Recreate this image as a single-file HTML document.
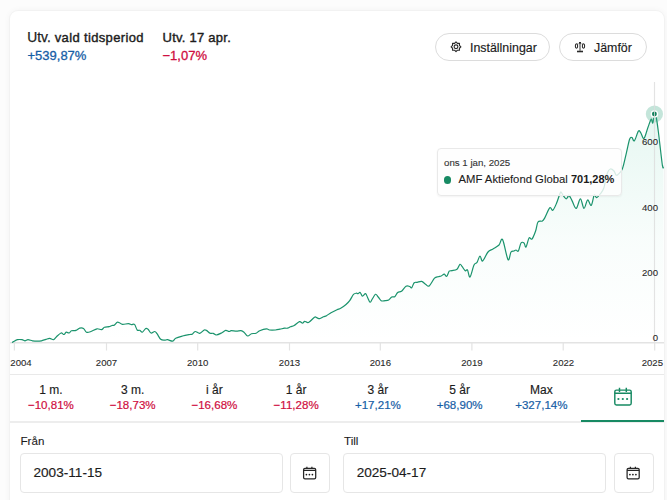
<!DOCTYPE html>
<html><head><meta charset="utf-8">
<style>
*{box-sizing:border-box;margin:0;padding:0}
html,body{width:667px;height:500px;overflow:hidden;background:#fcfcfc;font-family:"Liberation Sans",sans-serif;color:#222}
.card{position:absolute;left:9.8px;top:11px;width:653.8px;height:520px;background:#fff;border-radius:8px;box-shadow:0 0 0 1px #f2f2f2,0 0 7px rgba(0,0,0,0.05)}
.abs{position:absolute;white-space:nowrap}
.hl{font-size:13px;color:#1c1c1c;-webkit-text-stroke:0.4px #1c1c1c}
.pos{color:#175ea6}
.neg{color:#cf0d40}
.val{font-size:13px;-webkit-text-stroke:0.3px currentColor}
.btn{position:absolute;top:33px;height:28px;border:1px solid #dcdcdc;border-radius:14px;background:#fff}
.btn span{position:absolute;font-size:12.4px;color:#1c1c1c;top:6.5px;-webkit-text-stroke:0.15px #1c1c1c}
.ax{font-size:9.6px;color:#2a2a2a;-webkit-text-stroke:0.1px #2a2a2a}
.tab{position:absolute;top:383px;width:81.75px;text-align:center}
.tab .n{font-size:12px;color:#1c1c1c;line-height:14px;-webkit-text-stroke:0.15px #1c1c1c}
.tab .v{font-size:11.55px;line-height:16px;-webkit-text-stroke:0.2px currentColor}
.lbl{font-size:11.6px;color:#1c1c1c;-webkit-text-stroke:0.1px #1c1c1c}
.inp{position:absolute;top:453px;height:39.6px;border:1px solid #e6e6e6;border-radius:4px;background:#fff}
.inp span{position:absolute;left:12.5px;top:11px;font-size:13.6px;color:#1c1c1c;-webkit-text-stroke:0.15px #1c1c1c}
.cbtn{position:absolute;top:453px;width:40px;height:39.6px;border:1px solid #e6e6e6;border-radius:4px;background:#fff}
</style></head><body>
<div class="card"></div>
<div class="abs" style="left:27.3px;top:30px;font-size:13px;color:#1c1c1c"><span style="font-size:13.8px;-webkit-text-stroke:0.25px #1c1c1c">Utv.</span><span class="hl" style="position:absolute;left:27.4px;top:0;letter-spacing:0.36px">vald tidsperiod</span></div>
<div class="abs val pos" style="left:27.5px;top:48px">+539,87%</div>
<div class="abs hl" style="left:162.5px;top:30px;letter-spacing:0.25px">Utv. 17 apr.</div>
<div class="abs val neg" style="left:162.5px;top:48px">&minus;1,07%</div>

<div class="btn" style="left:435px;width:115px">
<span style="left:34px">Inställningar</span></div>
<div class="btn" style="left:559px;width:88px">
<span style="left:34px">Jämför</span></div>

<svg class="abs" style="left:440px;top:30px" width="160" height="30" viewBox="440 30 160 30">
<g fill="none" stroke="#2a2a2a" stroke-width="1.15" stroke-linejoin="round"><path d="M456.00,41.90 L457.42,43.38 L459.46,43.34 L459.42,45.38 L460.90,46.80 L459.42,48.22 L459.46,50.26 L457.42,50.22 L456.00,51.70 L454.58,50.22 L452.54,50.26 L452.58,48.22 L451.10,46.80 L452.58,45.38 L452.54,43.34 L454.58,43.38Z"/><circle cx="456" cy="46.8" r="1.9"/></g>
<g fill="none" stroke="#2a2a2a">
<rect x="579" y="42" width="2" height="2" fill="#2a2a2a" stroke="none"/>
<path d="M580 44v6.8" stroke-width="1.2" stroke="#555"/>
<path d="M577 51.5h6" stroke-width="1.6"/>
<path d="M576.5 43.8h7" stroke-width="0.6" stroke="#888"/>
<ellipse cx="576.5" cy="46" rx="1.15" ry="2.3" stroke-width="1.1"/>
<ellipse cx="583.5" cy="46" rx="1.15" ry="2.3" stroke-width="1.1"/>
</g></svg>
<svg class="abs" style="left:0;top:0" width="667" height="500">
<defs><linearGradient id="g" x1="0" y1="113" x2="0" y2="343" gradientUnits="userSpaceOnUse">
<stop offset="0" stop-color="#40c49a" stop-opacity="0.13"/><stop offset="0.55" stop-color="#40c49a" stop-opacity="0.035"/><stop offset="1" stop-color="#40c49a" stop-opacity="0"/></linearGradient></defs>
<path d="M12.00,342.60 C12.25,342.43 12.58,342.08 13.50,341.60 C14.42,341.12 16.08,340.02 17.50,339.70 C18.92,339.38 20.75,339.52 22.00,339.70 C23.25,339.88 24.00,340.80 25.00,340.80 C26.00,340.80 26.75,339.70 28.00,339.70 C29.25,339.70 31.00,340.55 32.50,340.80 C34.00,341.05 35.50,341.20 37.00,341.20 C38.50,341.20 40.00,341.12 41.50,340.80 C43.00,340.48 44.63,339.70 46.00,339.30 C47.37,338.90 48.45,338.33 49.70,338.40 C50.95,338.47 52.37,339.98 53.50,339.70 C54.63,339.42 55.25,337.82 56.50,336.70 C57.75,335.58 59.75,333.37 61.00,333.00 C62.25,332.63 63.13,334.63 64.00,334.50 C64.87,334.37 65.33,332.45 66.20,332.20 C67.07,331.95 68.32,333.25 69.20,333.00 C70.08,332.75 70.37,331.13 71.50,330.70 C72.63,330.27 74.63,330.82 76.00,330.40 C77.37,329.98 78.45,328.52 79.70,328.20 C80.95,327.88 82.37,327.83 83.50,328.50 C84.63,329.17 85.25,331.70 86.50,332.20 C87.75,332.70 89.25,332.07 91.00,331.50 C92.75,330.93 95.25,329.10 97.00,328.80 C98.75,328.50 100.25,329.95 101.50,329.70 C102.75,329.45 103.25,327.80 104.50,327.30 C105.75,326.80 107.75,327.00 109.00,326.70 C110.25,326.40 111.13,325.75 112.00,325.50 C112.87,325.25 113.33,325.75 114.20,325.20 C115.07,324.65 116.32,322.60 117.20,322.20 C118.08,321.80 118.62,322.45 119.50,322.80 C120.38,323.15 121.00,324.15 122.50,324.30 C124.00,324.45 127.00,323.63 128.50,323.70 C130.00,323.77 130.50,324.58 131.50,324.70 C132.50,324.82 133.55,323.52 134.50,324.40 C135.45,325.28 136.33,329.02 137.20,330.00 C138.07,330.98 138.85,329.93 139.70,330.30 C140.55,330.67 141.30,332.50 142.30,332.20 C143.30,331.90 144.75,329.00 145.70,328.50 C146.65,328.00 147.12,328.45 148.00,329.20 C148.88,329.95 149.88,332.62 151.00,333.00 C152.12,333.38 153.70,331.38 154.70,331.50 C155.70,331.62 156.00,332.40 157.00,333.70 C158.00,335.00 159.45,338.22 160.70,339.30 C161.95,340.38 163.37,340.13 164.50,340.20 C165.63,340.27 166.13,339.53 167.50,339.70 C168.87,339.87 171.33,341.45 172.70,341.20 C174.07,340.95 174.07,339.07 175.70,338.20 C177.33,337.33 180.12,336.62 182.50,336.00 C184.88,335.38 188.38,334.80 190.00,334.50 C191.62,334.20 191.33,334.70 192.20,334.20 C193.07,333.70 193.95,331.65 195.20,331.50 C196.45,331.35 198.20,333.55 199.70,333.30 C201.20,333.05 203.07,330.48 204.20,330.00 C205.33,329.52 205.50,329.85 206.50,330.40 C207.50,330.95 209.08,332.82 210.20,333.30 C211.32,333.78 212.20,333.02 213.20,333.30 C214.20,333.58 214.82,335.05 216.20,335.00 C217.58,334.95 219.92,333.77 221.50,333.00 C223.08,332.23 224.45,330.65 225.70,330.40 C226.95,330.15 228.08,331.45 229.00,331.50 C229.92,331.55 229.95,330.75 231.20,330.70 C232.45,330.65 234.87,331.20 236.50,331.20 C238.13,331.20 239.75,330.53 241.00,330.70 C242.25,330.87 242.88,331.32 244.00,332.20 C245.12,333.08 246.45,335.75 247.70,336.00 C248.95,336.25 250.12,334.15 251.50,333.70 C252.88,333.25 254.63,333.80 256.00,333.30 C257.37,332.80 257.95,331.45 259.70,330.70 C261.45,329.95 264.87,328.92 266.50,328.80 C268.13,328.68 268.00,329.80 269.50,330.00 C271.00,330.20 273.75,330.13 275.50,330.00 C277.25,329.87 278.50,329.50 280.00,329.20 C281.50,328.90 283.25,328.37 284.50,328.20 C285.75,328.03 286.50,328.45 287.50,328.20 C288.50,327.95 289.38,327.15 290.50,326.70 C291.62,326.25 292.70,326.33 294.20,325.50 C295.70,324.67 298.12,322.08 299.50,321.70 C300.88,321.32 301.63,323.27 302.50,323.20 C303.37,323.13 303.70,321.42 304.70,321.30 C305.70,321.18 306.87,323.18 308.50,322.50 C310.13,321.82 313.13,318.00 314.50,317.20 C315.87,316.40 315.83,317.45 316.70,317.70 C317.57,317.95 318.57,318.85 319.70,318.70 C320.83,318.55 322.37,317.30 323.50,316.80 C324.63,316.30 325.25,316.38 326.50,315.70 C327.75,315.02 329.25,313.70 331.00,312.70 C332.75,311.70 335.38,310.45 337.00,309.70 C338.62,308.95 339.20,309.07 340.70,308.20 C342.20,307.33 344.50,305.75 346.00,304.50 C347.50,303.25 348.45,302.38 349.70,300.70 C350.95,299.02 352.37,295.65 353.50,294.40 C354.63,293.15 355.75,293.32 356.50,293.20 C357.25,293.08 357.38,293.82 358.00,293.70 C358.62,293.58 359.45,292.08 360.20,292.50 C360.95,292.92 361.62,296.00 362.50,296.20 C363.38,296.40 364.63,293.45 365.50,293.70 C366.37,293.95 366.95,296.28 367.70,297.70 C368.45,299.12 369.25,301.95 370.00,302.20 C370.75,302.45 371.28,300.52 372.20,299.20 C373.12,297.88 374.50,294.67 375.50,294.30 C376.50,293.93 377.25,295.93 378.20,297.00 C379.15,298.07 380.07,300.08 381.20,300.70 C382.33,301.32 383.75,300.82 385.00,300.70 C386.25,300.58 387.58,300.62 388.70,300.00 C389.82,299.38 390.70,297.55 391.70,297.00 C392.70,296.45 393.70,297.45 394.70,296.70 C395.70,295.95 396.57,293.40 397.70,292.50 C398.83,291.60 400.12,292.35 401.50,291.30 C402.88,290.25 404.63,287.00 406.00,286.20 C407.37,285.40 408.75,286.25 409.70,286.50 C410.65,286.75 410.95,288.33 411.70,287.70 C412.45,287.07 413.28,283.60 414.20,282.70 C415.12,281.80 415.95,282.52 417.20,282.30 C418.45,282.08 420.32,281.08 421.70,281.40 C423.08,281.72 424.25,283.45 425.50,284.20 C426.75,284.95 427.70,286.90 429.20,285.90 C430.70,284.90 433.00,279.73 434.50,278.20 C436.00,276.67 437.08,277.07 438.20,276.70 C439.32,276.33 440.20,276.42 441.20,276.00 C442.20,275.58 443.28,274.15 444.20,274.20 C445.12,274.25 445.87,276.80 446.70,276.30 C447.53,275.80 448.37,272.13 449.20,271.20 C450.03,270.27 450.40,271.03 451.70,270.70 C453.00,270.37 455.62,270.27 457.00,269.20 C458.38,268.13 459.13,264.72 460.00,264.30 C460.87,263.88 461.33,265.63 462.20,266.70 C463.07,267.77 464.32,270.15 465.20,270.70 C466.08,271.25 466.70,268.95 467.50,270.00 C468.30,271.05 468.92,277.83 470.00,277.00 C471.08,276.17 472.83,267.43 474.00,265.00 C475.17,262.57 476.00,263.90 477.00,262.40 C478.00,260.90 479.07,256.23 480.00,256.00 C480.93,255.77 481.27,261.67 482.60,261.00 C483.93,260.33 486.27,254.00 488.00,252.00 C489.73,250.00 491.17,250.17 493.00,249.00 C494.83,247.83 497.40,246.57 499.00,245.00 C500.60,243.43 501.10,237.17 502.60,239.60 C504.10,242.03 506.60,257.53 508.00,259.60 C509.40,261.67 510.00,253.43 511.00,252.00 C512.00,250.57 513.17,251.33 514.00,251.00 C514.83,250.67 515.27,250.00 516.00,250.00 C516.73,250.00 517.57,252.17 518.40,251.00 C519.23,249.83 520.07,244.33 521.00,243.00 C521.93,241.67 523.17,242.33 524.00,243.00 C524.83,243.67 525.17,247.83 526.00,247.00 C526.83,246.17 528.00,239.33 529.00,238.00 C530.00,236.67 530.90,240.17 532.00,239.00 C533.10,237.83 534.60,233.83 535.60,231.00 C536.60,228.17 536.87,223.67 538.00,222.00 C539.13,220.33 541.23,221.77 542.40,221.00 C543.57,220.23 543.77,219.60 545.00,217.40 C546.23,215.20 548.50,209.00 549.80,207.80 C551.10,206.60 551.70,210.90 552.80,210.20 C553.90,209.50 555.20,206.40 556.40,203.60 C557.60,200.80 559.20,195.30 560.00,193.40 C560.80,191.50 560.70,191.90 561.20,192.20 C561.70,192.50 562.20,194.10 563.00,195.20 C563.80,196.30 565.20,198.50 566.00,198.80 C566.80,199.10 567.30,197.60 567.80,197.00 C568.30,196.40 568.30,194.60 569.00,195.20 C569.70,195.80 570.80,198.40 572.00,200.60 C573.20,202.80 574.80,208.70 576.20,208.40 C577.60,208.10 579.10,198.80 580.40,198.80 C581.70,198.80 582.80,208.20 584.00,208.40 C585.20,208.60 586.40,200.50 587.60,200.00 C588.80,199.50 590.10,206.20 591.20,205.40 C592.30,204.60 593.30,196.50 594.20,195.20 C595.10,193.90 595.60,197.80 596.60,197.60 C597.60,197.40 599.00,195.60 600.20,194.00 C601.40,192.40 602.60,191.50 603.80,188.00 C605.00,184.50 606.32,176.17 607.40,173.00 C608.48,169.83 609.20,169.33 610.30,169.00 C611.40,168.67 613.05,170.00 614.00,171.00 C614.95,172.00 615.33,174.42 616.00,175.00 C616.67,175.58 616.93,175.53 618.00,174.50 C619.07,173.47 621.00,172.42 622.40,168.80 C623.80,165.18 625.20,157.73 626.40,152.80 C627.60,147.87 628.67,141.73 629.60,139.20 C630.53,136.67 631.20,137.33 632.00,137.60 C632.80,137.87 633.33,141.87 634.40,140.80 C635.47,139.73 637.33,132.53 638.40,131.20 C639.47,129.87 639.87,131.60 640.80,132.80 C641.73,134.00 642.80,139.33 644.00,138.40 C645.20,137.47 646.80,130.40 648.00,127.20 C649.20,124.00 650.40,119.90 651.20,119.20 C652.00,118.50 652.27,123.87 652.80,123.00 C653.33,122.13 653.87,115.17 654.40,114.00 C654.93,112.83 655.33,113.00 656.00,116.00 C656.67,119.00 657.33,123.75 658.40,132.00 C659.47,140.25 661.55,159.78 662.40,165.50 C663.25,171.22 663.32,166.17 663.50,166.30 L663.5,342.8 L12,342.8 Z" fill="url(#g)"/>
<line x1="10" y1="342.8" x2="664" y2="342.8" stroke="#e3e3e3" stroke-width="1.5"/>
<g stroke="#e3e3e3" stroke-width="1.2">
<line x1="14.4" y1="343" x2="14.4" y2="350.5"/><line x1="106.5" y1="343" x2="106.5" y2="350.5"/><line x1="197.7" y1="343" x2="197.7" y2="350.5"/><line x1="289.5" y1="343" x2="289.5" y2="350.5"/><line x1="380.3" y1="343" x2="380.3" y2="350.5"/><line x1="471.9" y1="343" x2="471.9" y2="350.5"/><line x1="563.2" y1="343" x2="563.2" y2="350.5"/><line x1="654.7" y1="343" x2="654.7" y2="350.5"/>
</g>
<path d="M12.00,342.60 C12.25,342.43 12.58,342.08 13.50,341.60 C14.42,341.12 16.08,340.02 17.50,339.70 C18.92,339.38 20.75,339.52 22.00,339.70 C23.25,339.88 24.00,340.80 25.00,340.80 C26.00,340.80 26.75,339.70 28.00,339.70 C29.25,339.70 31.00,340.55 32.50,340.80 C34.00,341.05 35.50,341.20 37.00,341.20 C38.50,341.20 40.00,341.12 41.50,340.80 C43.00,340.48 44.63,339.70 46.00,339.30 C47.37,338.90 48.45,338.33 49.70,338.40 C50.95,338.47 52.37,339.98 53.50,339.70 C54.63,339.42 55.25,337.82 56.50,336.70 C57.75,335.58 59.75,333.37 61.00,333.00 C62.25,332.63 63.13,334.63 64.00,334.50 C64.87,334.37 65.33,332.45 66.20,332.20 C67.07,331.95 68.32,333.25 69.20,333.00 C70.08,332.75 70.37,331.13 71.50,330.70 C72.63,330.27 74.63,330.82 76.00,330.40 C77.37,329.98 78.45,328.52 79.70,328.20 C80.95,327.88 82.37,327.83 83.50,328.50 C84.63,329.17 85.25,331.70 86.50,332.20 C87.75,332.70 89.25,332.07 91.00,331.50 C92.75,330.93 95.25,329.10 97.00,328.80 C98.75,328.50 100.25,329.95 101.50,329.70 C102.75,329.45 103.25,327.80 104.50,327.30 C105.75,326.80 107.75,327.00 109.00,326.70 C110.25,326.40 111.13,325.75 112.00,325.50 C112.87,325.25 113.33,325.75 114.20,325.20 C115.07,324.65 116.32,322.60 117.20,322.20 C118.08,321.80 118.62,322.45 119.50,322.80 C120.38,323.15 121.00,324.15 122.50,324.30 C124.00,324.45 127.00,323.63 128.50,323.70 C130.00,323.77 130.50,324.58 131.50,324.70 C132.50,324.82 133.55,323.52 134.50,324.40 C135.45,325.28 136.33,329.02 137.20,330.00 C138.07,330.98 138.85,329.93 139.70,330.30 C140.55,330.67 141.30,332.50 142.30,332.20 C143.30,331.90 144.75,329.00 145.70,328.50 C146.65,328.00 147.12,328.45 148.00,329.20 C148.88,329.95 149.88,332.62 151.00,333.00 C152.12,333.38 153.70,331.38 154.70,331.50 C155.70,331.62 156.00,332.40 157.00,333.70 C158.00,335.00 159.45,338.22 160.70,339.30 C161.95,340.38 163.37,340.13 164.50,340.20 C165.63,340.27 166.13,339.53 167.50,339.70 C168.87,339.87 171.33,341.45 172.70,341.20 C174.07,340.95 174.07,339.07 175.70,338.20 C177.33,337.33 180.12,336.62 182.50,336.00 C184.88,335.38 188.38,334.80 190.00,334.50 C191.62,334.20 191.33,334.70 192.20,334.20 C193.07,333.70 193.95,331.65 195.20,331.50 C196.45,331.35 198.20,333.55 199.70,333.30 C201.20,333.05 203.07,330.48 204.20,330.00 C205.33,329.52 205.50,329.85 206.50,330.40 C207.50,330.95 209.08,332.82 210.20,333.30 C211.32,333.78 212.20,333.02 213.20,333.30 C214.20,333.58 214.82,335.05 216.20,335.00 C217.58,334.95 219.92,333.77 221.50,333.00 C223.08,332.23 224.45,330.65 225.70,330.40 C226.95,330.15 228.08,331.45 229.00,331.50 C229.92,331.55 229.95,330.75 231.20,330.70 C232.45,330.65 234.87,331.20 236.50,331.20 C238.13,331.20 239.75,330.53 241.00,330.70 C242.25,330.87 242.88,331.32 244.00,332.20 C245.12,333.08 246.45,335.75 247.70,336.00 C248.95,336.25 250.12,334.15 251.50,333.70 C252.88,333.25 254.63,333.80 256.00,333.30 C257.37,332.80 257.95,331.45 259.70,330.70 C261.45,329.95 264.87,328.92 266.50,328.80 C268.13,328.68 268.00,329.80 269.50,330.00 C271.00,330.20 273.75,330.13 275.50,330.00 C277.25,329.87 278.50,329.50 280.00,329.20 C281.50,328.90 283.25,328.37 284.50,328.20 C285.75,328.03 286.50,328.45 287.50,328.20 C288.50,327.95 289.38,327.15 290.50,326.70 C291.62,326.25 292.70,326.33 294.20,325.50 C295.70,324.67 298.12,322.08 299.50,321.70 C300.88,321.32 301.63,323.27 302.50,323.20 C303.37,323.13 303.70,321.42 304.70,321.30 C305.70,321.18 306.87,323.18 308.50,322.50 C310.13,321.82 313.13,318.00 314.50,317.20 C315.87,316.40 315.83,317.45 316.70,317.70 C317.57,317.95 318.57,318.85 319.70,318.70 C320.83,318.55 322.37,317.30 323.50,316.80 C324.63,316.30 325.25,316.38 326.50,315.70 C327.75,315.02 329.25,313.70 331.00,312.70 C332.75,311.70 335.38,310.45 337.00,309.70 C338.62,308.95 339.20,309.07 340.70,308.20 C342.20,307.33 344.50,305.75 346.00,304.50 C347.50,303.25 348.45,302.38 349.70,300.70 C350.95,299.02 352.37,295.65 353.50,294.40 C354.63,293.15 355.75,293.32 356.50,293.20 C357.25,293.08 357.38,293.82 358.00,293.70 C358.62,293.58 359.45,292.08 360.20,292.50 C360.95,292.92 361.62,296.00 362.50,296.20 C363.38,296.40 364.63,293.45 365.50,293.70 C366.37,293.95 366.95,296.28 367.70,297.70 C368.45,299.12 369.25,301.95 370.00,302.20 C370.75,302.45 371.28,300.52 372.20,299.20 C373.12,297.88 374.50,294.67 375.50,294.30 C376.50,293.93 377.25,295.93 378.20,297.00 C379.15,298.07 380.07,300.08 381.20,300.70 C382.33,301.32 383.75,300.82 385.00,300.70 C386.25,300.58 387.58,300.62 388.70,300.00 C389.82,299.38 390.70,297.55 391.70,297.00 C392.70,296.45 393.70,297.45 394.70,296.70 C395.70,295.95 396.57,293.40 397.70,292.50 C398.83,291.60 400.12,292.35 401.50,291.30 C402.88,290.25 404.63,287.00 406.00,286.20 C407.37,285.40 408.75,286.25 409.70,286.50 C410.65,286.75 410.95,288.33 411.70,287.70 C412.45,287.07 413.28,283.60 414.20,282.70 C415.12,281.80 415.95,282.52 417.20,282.30 C418.45,282.08 420.32,281.08 421.70,281.40 C423.08,281.72 424.25,283.45 425.50,284.20 C426.75,284.95 427.70,286.90 429.20,285.90 C430.70,284.90 433.00,279.73 434.50,278.20 C436.00,276.67 437.08,277.07 438.20,276.70 C439.32,276.33 440.20,276.42 441.20,276.00 C442.20,275.58 443.28,274.15 444.20,274.20 C445.12,274.25 445.87,276.80 446.70,276.30 C447.53,275.80 448.37,272.13 449.20,271.20 C450.03,270.27 450.40,271.03 451.70,270.70 C453.00,270.37 455.62,270.27 457.00,269.20 C458.38,268.13 459.13,264.72 460.00,264.30 C460.87,263.88 461.33,265.63 462.20,266.70 C463.07,267.77 464.32,270.15 465.20,270.70 C466.08,271.25 466.70,268.95 467.50,270.00 C468.30,271.05 468.92,277.83 470.00,277.00 C471.08,276.17 472.83,267.43 474.00,265.00 C475.17,262.57 476.00,263.90 477.00,262.40 C478.00,260.90 479.07,256.23 480.00,256.00 C480.93,255.77 481.27,261.67 482.60,261.00 C483.93,260.33 486.27,254.00 488.00,252.00 C489.73,250.00 491.17,250.17 493.00,249.00 C494.83,247.83 497.40,246.57 499.00,245.00 C500.60,243.43 501.10,237.17 502.60,239.60 C504.10,242.03 506.60,257.53 508.00,259.60 C509.40,261.67 510.00,253.43 511.00,252.00 C512.00,250.57 513.17,251.33 514.00,251.00 C514.83,250.67 515.27,250.00 516.00,250.00 C516.73,250.00 517.57,252.17 518.40,251.00 C519.23,249.83 520.07,244.33 521.00,243.00 C521.93,241.67 523.17,242.33 524.00,243.00 C524.83,243.67 525.17,247.83 526.00,247.00 C526.83,246.17 528.00,239.33 529.00,238.00 C530.00,236.67 530.90,240.17 532.00,239.00 C533.10,237.83 534.60,233.83 535.60,231.00 C536.60,228.17 536.87,223.67 538.00,222.00 C539.13,220.33 541.23,221.77 542.40,221.00 C543.57,220.23 543.77,219.60 545.00,217.40 C546.23,215.20 548.50,209.00 549.80,207.80 C551.10,206.60 551.70,210.90 552.80,210.20 C553.90,209.50 555.20,206.40 556.40,203.60 C557.60,200.80 559.20,195.30 560.00,193.40 C560.80,191.50 560.70,191.90 561.20,192.20 C561.70,192.50 562.20,194.10 563.00,195.20 C563.80,196.30 565.20,198.50 566.00,198.80 C566.80,199.10 567.30,197.60 567.80,197.00 C568.30,196.40 568.30,194.60 569.00,195.20 C569.70,195.80 570.80,198.40 572.00,200.60 C573.20,202.80 574.80,208.70 576.20,208.40 C577.60,208.10 579.10,198.80 580.40,198.80 C581.70,198.80 582.80,208.20 584.00,208.40 C585.20,208.60 586.40,200.50 587.60,200.00 C588.80,199.50 590.10,206.20 591.20,205.40 C592.30,204.60 593.30,196.50 594.20,195.20 C595.10,193.90 595.60,197.80 596.60,197.60 C597.60,197.40 599.00,195.60 600.20,194.00 C601.40,192.40 602.60,191.50 603.80,188.00 C605.00,184.50 606.32,176.17 607.40,173.00 C608.48,169.83 609.20,169.33 610.30,169.00 C611.40,168.67 613.05,170.00 614.00,171.00 C614.95,172.00 615.33,174.42 616.00,175.00 C616.67,175.58 616.93,175.53 618.00,174.50 C619.07,173.47 621.00,172.42 622.40,168.80 C623.80,165.18 625.20,157.73 626.40,152.80 C627.60,147.87 628.67,141.73 629.60,139.20 C630.53,136.67 631.20,137.33 632.00,137.60 C632.80,137.87 633.33,141.87 634.40,140.80 C635.47,139.73 637.33,132.53 638.40,131.20 C639.47,129.87 639.87,131.60 640.80,132.80 C641.73,134.00 642.80,139.33 644.00,138.40 C645.20,137.47 646.80,130.40 648.00,127.20 C649.20,124.00 650.40,119.90 651.20,119.20 C652.00,118.50 652.27,123.87 652.80,123.00 C653.33,122.13 653.87,115.17 654.40,114.00 C654.93,112.83 655.33,113.00 656.00,116.00 C656.67,119.00 657.33,123.75 658.40,132.00 C659.47,140.25 661.55,159.78 662.40,165.50 C663.25,171.22 663.32,166.17 663.50,166.30" fill="none" stroke="#1a936c" stroke-width="1.2" stroke-linejoin="round"/>
<circle cx="654.4" cy="114" r="8.6" fill="#3aa886" fill-opacity="0.3"/>
<circle cx="654.4" cy="114" r="3.1" fill="#0e7e58" stroke="#fff" stroke-width="1.4"/>
<line x1="654.5" y1="82" x2="654.5" y2="342" stroke="#dcdcdc" stroke-opacity="0.8" stroke-width="1.1"/>
</svg>

<div class="abs ax" style="left:602px;top:135.8px;width:56px;text-align:right">600</div>
<div class="abs ax" style="left:602px;top:201.6px;width:56px;text-align:right">400</div>
<div class="abs ax" style="left:602px;top:267.2px;width:56px;text-align:right">200</div>
<div class="abs ax" style="left:602px;top:332.4px;width:56px;text-align:right">0</div>

<div class="abs ax" style="left:10.3px;top:356.8px">2004</div>
<div class="abs ax" style="left:76.5px;top:356.8px;width:60px;text-align:center">2007</div>
<div class="abs ax" style="left:167.7px;top:356.8px;width:60px;text-align:center">2010</div>
<div class="abs ax" style="left:259.5px;top:356.8px;width:60px;text-align:center">2013</div>
<div class="abs ax" style="left:350.3px;top:356.8px;width:60px;text-align:center">2016</div>
<div class="abs ax" style="left:441.9px;top:356.8px;width:60px;text-align:center">2019</div>
<div class="abs ax" style="left:533.5px;top:356.8px;width:60px;text-align:center">2022</div>
<div class="abs ax" style="left:603px;top:356.8px;width:60px;text-align:right">2025</div>

<div class="abs" style="left:437px;top:148px;width:185px;height:47.5px;background:rgba(254,254,254,0.82);border:1px solid #e9e9e9;border-radius:4px;box-shadow:0 1px 2px rgba(0,0,0,0.05)"></div>
<div class="abs" style="left:444px;top:156.6px;font-size:9.7px;color:#333;-webkit-text-stroke:0.12px #333">ons 1 jan, 2025</div>
<div class="abs" style="left:443.8px;top:176.2px;width:7.6px;height:7.6px;border-radius:50%;background:#178a63"></div>
<div class="abs" style="left:458.5px;top:173.3px;font-size:11.3px;color:#1c1c1c;-webkit-text-stroke:0.1px #1c1c1c">AMF Aktiefond Global <b style="-webkit-text-stroke:0;font-size:11px">701,28%</b></div>

<div class="abs" style="left:10px;top:373.7px;width:654px;height:1.5px;background:#e9e9e9"></div>
<div class="abs" style="left:10px;top:420.8px;width:654px;height:1.8px;background:#ededed"></div>
<div class="abs" style="left:581px;top:420.2px;width:83px;height:1.9px;background:#178a63"></div>

<div class="tab" style="left:10px"><div class="n">1 m.</div><div class="v neg">&minus;10,81%</div></div>
<div class="tab" style="left:91.75px"><div class="n">3 m.</div><div class="v neg">&minus;18,73%</div></div>
<div class="tab" style="left:173.5px"><div class="n">i år</div><div class="v neg">&minus;16,68%</div></div>
<div class="tab" style="left:255.25px"><div class="n">1 år</div><div class="v neg">&minus;11,28%</div></div>
<div class="tab" style="left:337px"><div class="n">3 år</div><div class="v pos">+17,21%</div></div>
<div class="tab" style="left:418.75px"><div class="n">5 år</div><div class="v pos">+68,90%</div></div>
<div class="tab" style="left:500.5px"><div class="n">Max</div><div class="v pos">+327,14%</div></div>
<svg class="abs" style="left:0;top:0" width="667" height="500"><g fill="none" stroke="#178a63" stroke-width="1.45"><rect x="614.8" y="390.1" width="16.4" height="14.8" rx="1.6"/><path d="M614.8 393.3h16.4M619.5 387.8v4.2M626.3 387.8v4.2"/></g><g fill="#178a63"><circle cx="618.4" cy="399" r="1.1"/><circle cx="622.8" cy="399" r="1.1"/><circle cx="627.1" cy="399" r="1.1"/></g></svg>

<div class="abs lbl" style="left:20.5px;top:434.3px">Från</div>
<div class="inp" style="left:20px;width:262.5px"><span>2003-11-15</span></div>
<div class="cbtn" style="left:290px"></div><svg class="abs" style="left:0;top:0" width="667" height="500"><g fill="none" stroke="#262626" stroke-width="1.25"><rect x="303.60" y="468.40" width="12.1" height="10.5" rx="1.4"/><path d="M303.60 470.30h12.1M306.90 466.80v2.2M311.90 466.80v2.2"/></g><g fill="#1a1a1a"><circle cx="306.40" cy="474.60" r="0.85"/><circle cx="309.40" cy="474.60" r="0.85"/><circle cx="312.40" cy="474.60" r="0.85"/></g></svg>
<div class="abs lbl" style="left:344px;top:434.3px">Till</div>
<div class="inp" style="left:343.2px;width:262.5px"><span>2025-04-17</span></div>
<div class="cbtn" style="left:613.5px"></div><svg class="abs" style="left:0;top:0" width="667" height="500"><g fill="none" stroke="#262626" stroke-width="1.25"><rect x="627.10" y="468.40" width="12.1" height="10.5" rx="1.4"/><path d="M627.10 470.30h12.1M630.40 466.80v2.2M635.40 466.80v2.2"/></g><g fill="#1a1a1a"><circle cx="629.90" cy="474.60" r="0.85"/><circle cx="632.90" cy="474.60" r="0.85"/><circle cx="635.90" cy="474.60" r="0.85"/></g></svg>
</body></html>
